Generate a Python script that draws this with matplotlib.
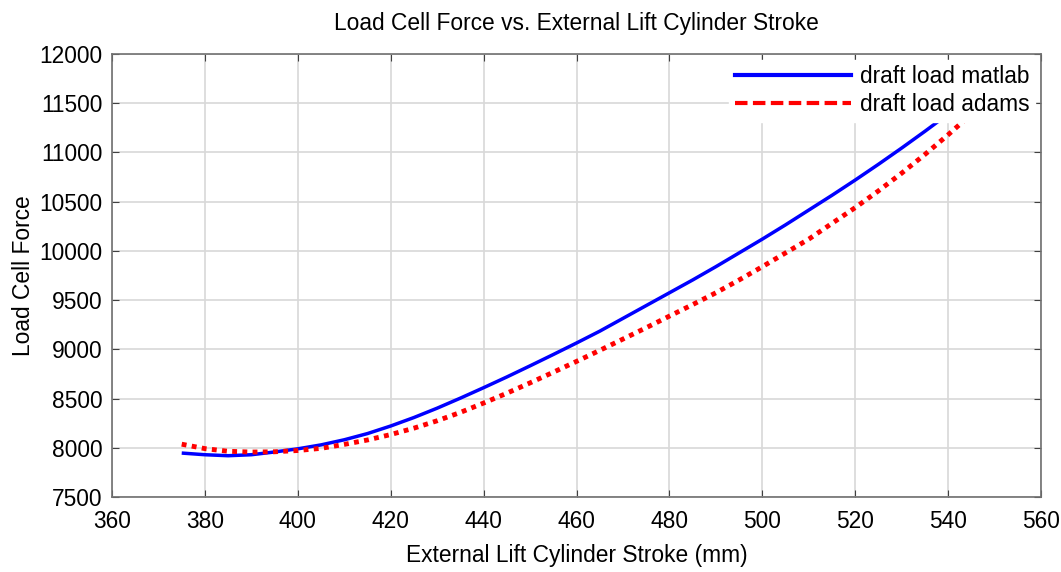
import matplotlib
matplotlib.use("Agg")
import matplotlib.pyplot as plt
from matplotlib.lines import Line2D

plt.rcParams['font.family'] = ['Liberation Sans', 'DejaVu Sans']

# Data
stroke_matlab = [375, 380, 385, 390, 395, 400, 405, 410, 415, 420, 425, 430, 435, 440,
                 445, 450, 455, 460, 465, 470, 475, 480, 485, 490, 495, 500, 505, 510,
                 515, 520, 525, 530, 535, 540, 545]
force_matlab = [7947, 7930, 7920, 7930, 7958, 7990, 8030, 8082, 8145, 8222, 8308, 8403, 8505, 8611,
                8720, 8833, 8948, 9065, 9185, 9315, 9445, 9575, 9705, 9840, 9980, 10120, 10265, 10415,
                10565, 10720, 10880, 11045, 11215, 11390, 11570]

stroke_adams = [375, 380, 385, 390, 395, 400, 405, 410, 415, 420, 425, 430, 435, 440,
                445, 450, 455, 460, 465, 470, 475, 480, 485, 490, 495, 500, 505, 510,
                515, 520, 525, 530, 535, 540, 545]
force_adams = [8037, 7992, 7965, 7957, 7960, 7973, 7995, 8035, 8080, 8135, 8200, 8275, 8360, 8455,
               8555, 8660, 8768, 8878, 8990, 9105, 9220, 9338, 9455, 9575, 9705, 9840, 9980, 10120,
               10280, 10440, 10610, 10790, 10980, 11180, 11390]

xticks = [360, 380, 400, 420, 440, 460, 480, 500, 520, 540, 560]
yticks = [7500, 8000, 8500, 9000, 9500, 10000, 10500, 11000, 11500, 12000]

fig = plt.figure(figsize=(10.61, 5.72), dpi=100)
ax = fig.add_axes([0.1056, 0.131, 0.8756, 0.7746])

ax.plot(stroke_matlab, force_matlab, color='#0000ff', lw=2.5, solid_capstyle='butt', zorder=3)
ax.plot(stroke_adams, force_adams, color='#ff0000', lw=3.5, linestyle=(0, (1, 1.1)), zorder=3)

ax.set_xlim(360, 560)
ax.set_ylim(7500, 12000)
ax.set_xticks(xticks)
ax.set_yticks(yticks)
ax.tick_params(direction='in', top=True, right=True, labelsize=16.4, length=5,
               color='#404040')
ax.tick_params(axis='y', pad=7)
ax.tick_params(axis='x', pad=9)
ax.grid(True, color='#d8d8d8', lw=1.2)
ax.set_axisbelow(True)
for s in ax.spines.values():
    s.set_color('#707070')
    s.set_linewidth(1.2)

ax.set_title('Load Cell Force vs. External Lift Cylinder Stroke', fontsize=16.4, pad=17)
ax.set_xlabel('External Lift Cylinder Stroke (mm)', fontsize=16.4, labelpad=8)
ax.set_ylabel('Load Cell Force', fontsize=16.4, labelpad=3)

handles = [Line2D([], [], color='#0000ff', lw=3),
           Line2D([], [], color='#ff0000', lw=3, dashes=(3, 1.3))]
leg = ax.legend(handles, ['draft load matlab', 'draft load adams'], loc='upper right',
                fontsize=16.4, frameon=True, handlelength=5.1, handletextpad=0.4,
                borderaxespad=0.25, labelspacing=0.2, borderpad=0.25, fancybox=False)
leg.get_frame().set_edgecolor('white')
leg.get_frame().set_facecolor('white')
leg.get_frame().set_alpha(1)
leg.set_zorder(5)

fig.savefig('out.png', dpi=100)
